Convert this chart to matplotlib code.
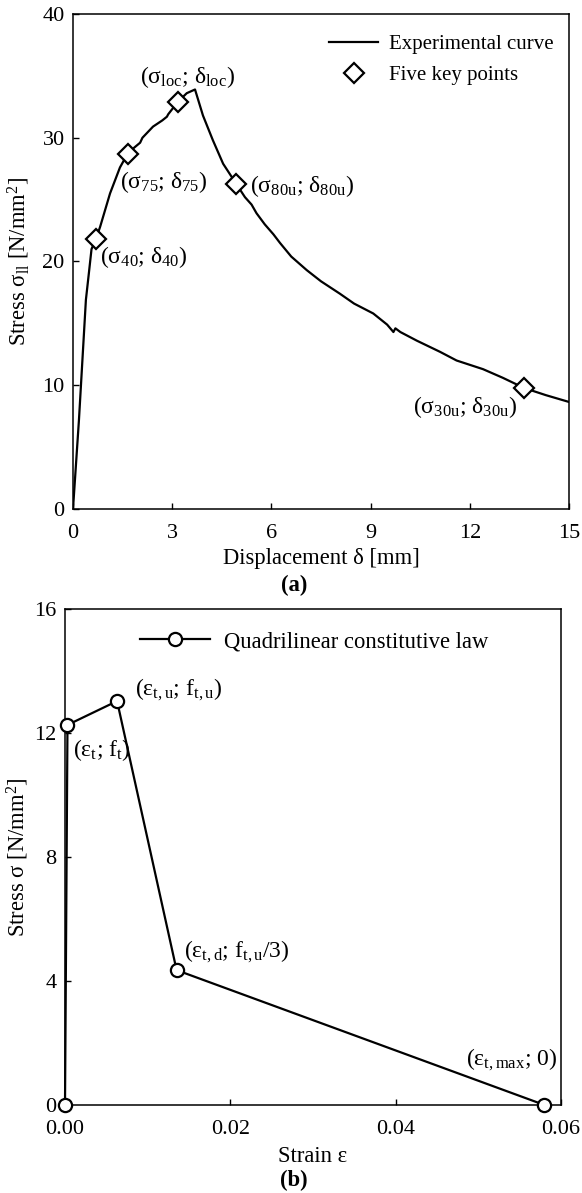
import matplotlib
matplotlib.use("Agg")
import matplotlib.pyplot as plt
import numpy as np

plt.rcParams['font.family'] = ['Liberation Serif', 'DejaVu Serif']
plt.rcParams['mathtext.fontset'] = 'custom'
plt.rcParams['mathtext.rm'] = 'Liberation Serif'
plt.rcParams['mathtext.it'] = 'Liberation Serif:italic'
plt.rcParams['mathtext.bf'] = 'Liberation Serif:bold'

FS_TICK = 16
FS_LAB = 16.3
FS_ANN = 17
FS_LEG_A = 15
FS_LEG_B = 16.3

# ---------------- Data: panel (a) ----------------
disp_a = [0, 0.18, 0.39, 0.49, 0.56, 0.69, 0.82, 1.12, 1.42, 1.65, 1.85, 2.03, 2.10, 2.42,
          2.70, 2.84, 2.88, 3.17, 3.44, 3.69, 3.93, 4.23, 4.54, 4.93, 5.20, 5.40, 5.55,
          5.80, 6.06, 6.26, 6.60, 7.07, 7.50, 8.07, 8.50, 9.08, 9.50, 9.69, 9.75, 9.90,
          10.40, 11.10, 11.60, 12.40, 13.00, 13.64, 14.30, 15.00]
stress_a = [0, 7.2, 16.9, 19.3, 21.0, 21.8, 22.8, 25.5, 27.6, 28.7, 29.2, 29.6, 30.0, 30.9,
            31.4, 31.7, 31.9, 32.9, 33.6, 33.9, 31.8, 29.8, 27.9, 26.3, 25.2, 24.6, 23.9,
            23.0, 22.2, 21.5, 20.4, 19.3, 18.4, 17.4, 16.6, 15.8, 14.9, 14.3, 14.6, 14.3,
            13.6, 12.7, 12.0, 11.3, 10.6, 9.78, 9.2, 8.65]

key_disp = [0.69, 1.65, 3.17, 4.93, 13.64]
key_stress = [21.8, 28.7, 32.9, 26.3, 9.78]
key_labels = [r"(σ$_{\mathrm{40}}$; δ$_{\mathrm{40}}$)",
              r"(σ$_{\mathrm{75}}$; δ$_{\mathrm{75}}$)",
              r"(σ$_{\mathrm{loc}}$; δ$_{\mathrm{loc}}$)",
              r"(σ$_{\mathrm{80u}}$; δ$_{\mathrm{80u}}$)",
              r"(σ$_{\mathrm{30u}}$; δ$_{\mathrm{30u}}$)"]

# ---------------- Data: panel (b) ----------------
strain_b = [0.0, 0.0003, 0.0063, 0.0135, 0.058]
stress_b = [0.0, 12.26, 13.03, 4.35, 0.0]
labels_b = [None,
            r"(ε$_{\mathrm{t}}$; f$_{\mathrm{t}}$)",
            r"(ε$_{\mathrm{t,u}}$; f$_{\mathrm{t,u}}$)",
            r"(ε$_{\mathrm{t,d}}$; f$_{\mathrm{t,u}}$/3)",
            r"(ε$_{\mathrm{t,max}}$; 0)"]

fig = plt.figure(figsize=(5.82, 11.93), dpi=100)
W, H = 582.0, 1193.0
ax1 = fig.add_axes([73 / W, 1 - 509 / H, 496 / W, 495 / H])
ax2 = fig.add_axes([65 / W, 1 - 1105 / H, 496 / W, 496 / H])

for ax in (ax1, ax2):
    for sp in ax.spines.values():
        sp.set_linewidth(1.1)
    ax.tick_params(direction='in', length=4, width=1.0, labelsize=FS_TICK,
                   top=False, right=False)
    ax.tick_params(axis='x', pad=10.5)
    ax.tick_params(axis='y', pad=6)

# ---- panel (a)
ax1.plot(disp_a, stress_a, color='black', lw=1.6, label='Experimental curve', zorder=2)
ax1.plot(key_disp, key_stress, linestyle='none', marker='D', ms=10, mfc='white',
         mec='black', mew=1.6, label='Five key points', zorder=3)
ax1.set_xlim(0, 15)
ax1.set_ylim(0, 40)
ax1.set_xticks([0, 3, 6, 9, 12, 15])
ax1.set_yticks([0, 10, 20, 30, 40])
ax1.set_xlabel('Displacement δ [mm]', fontsize=FS_LAB, labelpad=4)
ax1.set_ylabel(r'Stress σ$_{\mathrm{ll}}$ [N/mm$^{2}$]', fontsize=FS_LAB)
ax1.yaxis.set_label_coords(-0.083, 0.5)

offs_a = [(4, -18, 'left'), (-8, -28, 'left'), (10, 25, 'center'), (14, -2, 'left'),
          (-7, -19, 'right')]
for x, y, t, (dx, dy, ha) in zip(key_disp, key_stress, key_labels, offs_a):
    ax1.annotate(t, (x, y), xytext=(dx * 0.72, dy * 0.72), textcoords='offset points',
                 ha=ha, va='center', fontsize=FS_ANN)

ax1.legend(loc='upper right', bbox_to_anchor=(0.968, 0.958), frameon=False,
           fontsize=FS_LEG_A, handlelength=2.35, handletextpad=0.5, labelspacing=0.55,
           borderpad=0, borderaxespad=0)

# ---- panel (b)
ax2.plot(strain_b, stress_b, color='black', lw=1.6, marker='o', ms=9.5, mfc='white',
         mec='black', mew=1.6, label='Quadrilinear constitutive law', clip_on=False,
         zorder=3)
ax2.set_xlim(0, 0.06)
ax2.set_ylim(0, 16)
ax2.set_xticks([0.0, 0.02, 0.04, 0.06])
ax2.set_xticklabels(['0.00', '0.02', '0.04', '0.06'])
ax2.set_yticks([0, 4, 8, 12, 16])
ax2.set_xlabel('Strain ε', fontsize=FS_LAB, labelpad=5)
ax2.set_ylabel(r'Stress σ [N/mm$^{2}$]', fontsize=FS_LAB)
ax2.yaxis.set_label_coords(-0.068, 0.5)

offs_b = [None, (6, -25, 'left'), (18, 11, 'left'), (7, 18, 'left'), (13, 45, 'right')]
for x, y, t, o in zip(strain_b, stress_b, labels_b, offs_b):
    if t is None:
        continue
    dx, dy, ha = o
    ax2.annotate(t, (x, y), xytext=(dx * 0.72, dy * 0.72), textcoords='offset points',
                 ha=ha, va='center', fontsize=FS_ANN)

ax2.legend(loc='upper left', bbox_to_anchor=(0.151, 0.955), frameon=False,
           fontsize=FS_LEG_B, handlelength=3.1, handletextpad=0.6, borderpad=0,
           borderaxespad=0)

fig.text(294 / W, 1 - 585 / H, '(a)', ha='center', va='center', fontsize=FS_LAB,
         fontweight='bold')
fig.text(294 / W, 1 - 1180 / H, '(b)', ha='center', va='center', fontsize=FS_LAB,
         fontweight='bold')

fig.savefig('out.png', dpi=100)
